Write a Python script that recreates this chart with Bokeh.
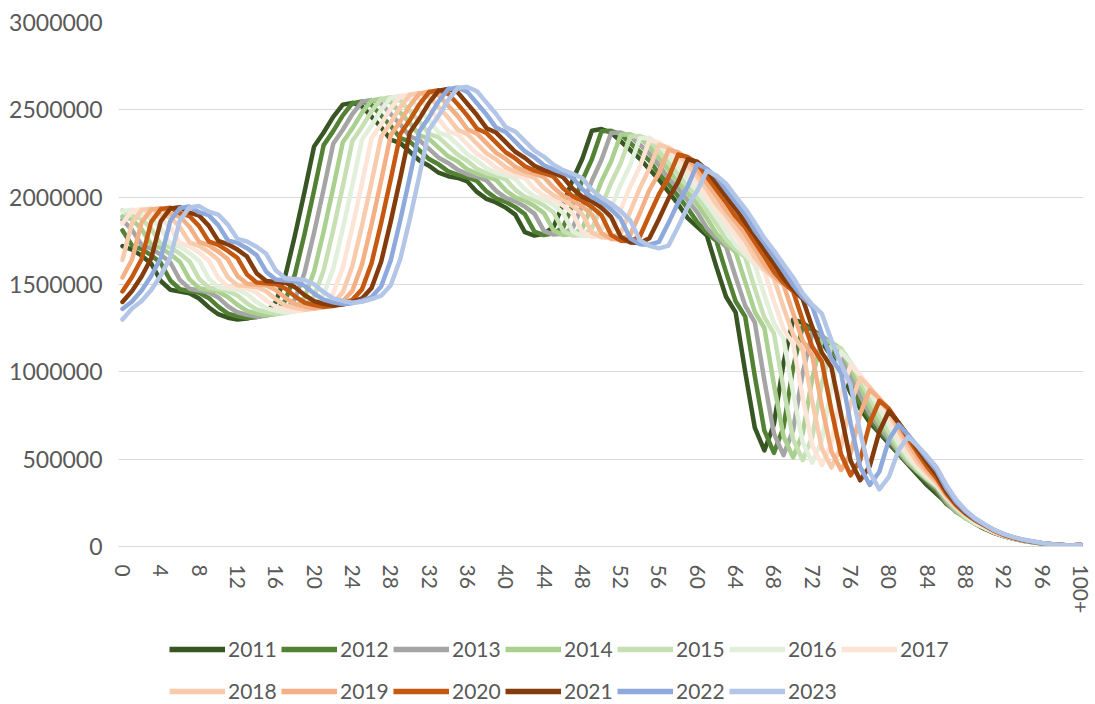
from bokeh.plotting import figure
from bokeh.layouts import column
from bokeh.models import ColumnDataSource, Legend, LegendItem, FixedTicker, NumeralTickFormatter, Range1d
from bokeh.embed import file_html
from bokeh.resources import INLINE

years = ["2011", "2012", "2013", "2014", "2015", "2016", "2017",
         "2018", "2019", "2020", "2021", "2022", "2023"]
colors = ["#375623", "#548235", "#a5a5a5", "#a9d08e", "#c6e0b4", "#e2efda", "#fce4d6",
          "#f8cbad", "#f4b084", "#c65911", "#843c0c", "#8ea9db", "#b4c6e7"]

ages = list(range(101))
tick_ages = [0, 4, 8, 12, 16, 20, 24, 28, 32, 36, 40, 44, 48, 52, 56, 60, 64, 68, 72, 76, 80, 84, 88, 92, 96, 100]
tick_labels = ["0", "4", "8", "12", "16", "20", "24", "28", "32", "36", "40", "44", "48", "52", "56", "60",
               "64", "68", "72", "76", "80", "84", "88", "92", "96", "100+"]
y_ticks = [0, 500000, 1000000, 1500000, 2000000, 2500000, 3000000]

# population by single year of age (thousands), ages 0..99 and 100+
pop_2011 = [1720,1700,1665,1620,1520,1470,1460,1450,1420,1370,
            1330,1310,1300,1305,1320,1340,1400,1550,1780,2030,
            2290,2370,2460,2530,2540,2520,2460,2400,2330,2310,
            2260,2210,2180,2140,2120,2110,2090,2030,1990,1970,
            1940,1900,1800,1780,1790,1830,1960,2100,2220,2380,
            2390,2370,2320,2270,2220,2160,2100,2030,1960,1880,
            1830,1780,1600,1430,1340,1000,680,550,700,1050,
            1300,1280,1240,1170,1090,1000,880,790,710,650,
            590,530,470,410,350,300,250,205,165,130,
            100,78,60,45,33,24,17,11,7,5,7]
pop_2012 = [1810,1723,1703,1668,1623,1523,1473,1463,1453,1423,
            1373,1333,1318,1308,1313,1328,1348,1408,1558,1788,
            2038,2298,2378,2468,2538,2548,2528,2468,2408,2338,
            2318,2268,2218,2188,2148,2128,2113,2093,2033,1993,
            1973,1943,1903,1803,1783,1793,1827,1957,2097,2217,
            2377,2380,2360,2310,2260,2210,2134,2075,2006,1936,
            1857,1797,1748,1571,1404,1316,975,663,536,683,
            1024,1261,1242,1203,1135,1057,930,818,735,660,
            605,531,477,423,369,315,243,203,166,134,
            105,76,59,46,34,25,17,12,8,5,8]
pop_2013 = [1870,1813,1726,1706,1671,1626,1526,1476,1466,1456,
            1426,1376,1341,1326,1316,1321,1336,1356,1416,1566,
            1796,2046,2306,2386,2476,2546,2556,2536,2476,2416,
            2346,2326,2276,2226,2196,2156,2131,2116,2096,2036,
            1996,1976,1946,1906,1806,1786,1790,1824,1954,2094,
            2214,2367,2370,2350,2300,2250,2183,2108,2050,1982,
            1913,1824,1765,1717,1543,1379,1283,951,646,523,
            666,993,1223,1205,1167,1101,983,865,761,684,
            614,545,478,429,381,332,255,197,164,134,
            109,80,58,45,35,26,18,12,8,6,8]
pop_2014 = [1890,1873,1816,1729,1709,1674,1629,1529,1479,1469,
            1459,1429,1384,1349,1334,1324,1329,1344,1364,1424,
            1574,1804,2054,2314,2394,2484,2554,2564,2544,2484,
            2424,2354,2334,2284,2234,2204,2159,2134,2119,2099,
            2039,1999,1979,1949,1909,1809,1783,1787,1821,1951,
            2091,2204,2357,2360,2340,2290,2223,2157,2083,2025,
            1958,1879,1791,1733,1686,1515,1345,1251,927,630,
            510,646,963,1186,1169,1132,1024,914,804,708,
            636,553,491,430,386,343,269,207,160,133,
            109,83,61,44,34,27,18,13,8,6,9]
pop_2015 = [1925,1893,1876,1819,1732,1712,1677,1632,1532,1482,
            1472,1462,1437,1392,1357,1342,1332,1337,1352,1372,
            1432,1582,1812,2062,2322,2402,2492,2562,2572,2552,
            2492,2432,2362,2342,2292,2242,2207,2162,2137,2122,
            2102,2042,2002,1982,1952,1912,1806,1780,1784,1818,
            1948,2081,2194,2347,2350,2330,2263,2196,2131,2058,
            2001,1923,1845,1759,1702,1656,1477,1311,1220,904,
            614,495,627,934,1150,1134,1053,952,850,748,
            658,572,498,442,387,347,278,218,168,130,
            108,83,63,46,33,26,19,13,9,6,10]
pop_2016 = [1920,1928,1896,1879,1822,1735,1715,1680,1635,1535,
            1485,1475,1470,1445,1400,1365,1350,1340,1345,1360,
            1380,1440,1590,1820,2070,2330,2410,2500,2570,2580,
            2560,2500,2440,2370,2350,2300,2245,2210,2165,2140,
            2125,2105,2045,2005,1985,1955,1909,1803,1777,1781,
            1815,1938,2071,2184,2337,2340,2302,2236,2170,2105,
            2033,1965,1888,1812,1727,1671,1615,1440,1278,1190,
            881,596,480,608,906,1116,1055,979,885,791,
            696,592,515,448,398,348,281,225,177,136,
            105,82,63,48,35,25,18,13,9,6,10]
pop_2017 = [1850,1923,1931,1899,1882,1825,1738,1718,1683,1638,
            1538,1488,1483,1478,1453,1408,1373,1358,1348,1353,
            1368,1388,1448,1598,1828,2078,2338,2418,2508,2578,
            2588,2568,2508,2448,2378,2358,2303,2248,2213,2168,
            2143,2128,2108,2048,2008,1988,1952,1906,1800,1774,
            1778,1805,1928,2061,2174,2327,2312,2274,2209,2144,
            2080,1996,1930,1854,1779,1696,1629,1575,1404,1246,
            1160,855,578,466,590,879,1038,981,910,823,
            736,626,533,464,403,358,282,228,182,143,
            110,80,62,48,36,27,18,13,9,6,10]
pop_2018 = [1640,1853,1926,1934,1902,1885,1828,1741,1721,1686,
            1641,1541,1496,1491,1486,1461,1416,1381,1366,1356,
            1361,1376,1396,1456,1606,1836,2086,2346,2426,2516,
            2586,2596,2576,2516,2456,2386,2361,2306,2251,2216,
            2171,2146,2131,2111,2051,2011,1985,1949,1903,1797,
            1771,1768,1795,1918,2051,2164,2299,2284,2247,2182,
            2118,2043,1960,1895,1821,1747,1654,1588,1536,1369,
            1215,1125,829,561,452,572,817,965,912,846,
            765,662,563,480,418,363,290,228,185,147,
            116,84,61,47,36,27,19,13,9,6,10]
pop_2019 = [1540,1643,1856,1929,1937,1905,1888,1831,1744,1724,
            1689,1644,1549,1504,1499,1494,1469,1424,1389,1374,
            1364,1369,1384,1404,1464,1614,1844,2094,2354,2434,
            2524,2594,2604,2584,2524,2464,2389,2364,2309,2254,
            2219,2174,2149,2134,2114,2054,2008,1982,1946,1900,
            1794,1761,1758,1785,1908,2041,2138,2271,2257,2220,
            2156,2080,2006,1925,1861,1788,1703,1613,1548,1498,
            1335,1179,1091,804,544,438,532,760,897,848,
            787,689,596,507,432,376,294,235,185,150,
            119,88,64,46,36,27,19,13,9,6,10]
pop_2020 = [1460,1543,1646,1859,1932,1940,1908,1891,1834,1747,
            1727,1692,1652,1557,1512,1507,1502,1477,1432,1397,
            1382,1372,1377,1392,1412,1472,1622,1852,2102,2362,
            2442,2532,2602,2612,2592,2532,2467,2392,2367,2312,
            2257,2222,2177,2152,2137,2117,2051,2005,1979,1943,
            1897,1784,1751,1748,1775,1898,2017,2112,2244,2230,
            2193,2117,2043,1970,1890,1828,1743,1660,1573,1509,
            1461,1295,1144,1058,780,528,407,495,707,834,
            789,708,620,536,456,389,305,238,190,150,
            122,90,67,49,35,27,19,13,9,6,10]
pop_2021 = [1400,1463,1546,1649,1862,1935,1943,1911,1894,1837,
            1750,1730,1700,1660,1565,1520,1515,1510,1485,1440,
            1405,1390,1380,1385,1400,1420,1480,1630,1860,2110,
            2370,2450,2540,2610,2620,2600,2535,2470,2395,2370,
            2315,2260,2225,2180,2155,2140,2114,2048,2002,1976,
            1940,1887,1774,1741,1738,1765,1875,1993,2087,2217,
            2203,2154,2079,2006,1935,1856,1782,1699,1619,1534,
            1471,1417,1256,1110,1026,757,491,379,460,658,
            776,710,637,558,482,410,315,247,193,154,
            122,93,68,51,37,27,19,13,9,6,10]
pop_2022 = [1360,1403,1466,1549,1652,1865,1938,1946,1914,1897,
            1840,1753,1738,1708,1668,1573,1528,1523,1518,1493,
            1448,1413,1398,1388,1393,1408,1428,1488,1638,1868,
            2118,2378,2458,2548,2618,2628,2603,2538,2473,2398,
            2373,2318,2263,2228,2183,2158,2137,2111,2045,1999,
            1973,1930,1877,1764,1731,1728,1744,1853,1969,2062,
            2190,2163,2115,2042,1970,1900,1810,1737,1657,1579,
            1496,1427,1374,1218,1077,995,704,457,352,428,
            612,698,639,573,502,434,332,255,200,156,
            125,93,71,52,39,28,19,13,9,6,10]
pop_2023 = [1300,1363,1406,1469,1552,1655,1868,1941,1949,1917,
            1900,1843,1761,1746,1716,1676,1581,1536,1531,1526,
            1501,1456,1421,1406,1396,1401,1416,1436,1496,1646,
            1876,2126,2386,2466,2556,2626,2631,2606,2541,2476,
            2401,2376,2321,2266,2231,2186,2155,2134,2108,2042,
            1996,1963,1920,1867,1754,1721,1707,1723,1831,1945,
            2037,2151,2124,2077,2005,1935,1853,1765,1694,1616,
            1540,1451,1384,1333,1181,1045,925,655,425,327,
            398,551,628,575,516,452,352,269,207,162,
            126,95,71,54,40,30,20,13,9,6,10]

series = [pop_2011, pop_2012, pop_2013, pop_2014, pop_2015, pop_2016, pop_2017,
          pop_2018, pop_2019, pop_2020, pop_2021, pop_2022, pop_2023]

FONT = "Lato"
TXT = "#595959"

# ---- main chart ----
p = figure(width=1095, height=620, x_range=Range1d(-0.413, 100.31), y_range=Range1d(0, 3000000),
           output_backend="svg", toolbar_location=None,
           min_border_left=118, min_border_right=12, min_border_top=22, min_border_bottom=74)
p.outline_line_color = None
p.background_fill_color = "white"

sources = []
for yr, col, vals in zip(years, colors, series):
    src = ColumnDataSource(data=dict(age=ages, pop=[v * 1000 for v in vals]))
    sources.append(src)
    p.line("age", "pop", source=src, line_color=col, line_width=4.5,
           line_join="round", line_cap="round")

p.xgrid.visible = False
p.ygrid.grid_line_color = "#d9d9d9"
p.ygrid.grid_line_width = 1

p.yaxis.ticker = FixedTicker(ticks=y_ticks)
p.yaxis.formatter = NumeralTickFormatter(format="0")
p.yaxis.axis_line_color = None
p.yaxis.major_tick_line_color = None
p.yaxis.minor_tick_line_color = None
p.yaxis.major_label_standoff = 10
p.yaxis.major_label_text_font = FONT
p.yaxis.major_label_text_font_size = "23px"
p.yaxis.major_label_text_color = TXT

p.xaxis.ticker = FixedTicker(ticks=tick_ages)
p.xaxis.major_label_overrides = {t: l for t, l in zip(tick_ages, tick_labels)}
p.xaxis.major_label_orientation = "vertical"
p.xaxis.axis_line_color = "#d9d9d9"
p.xaxis.axis_line_width = 1
p.xaxis.major_tick_line_color = None
p.xaxis.minor_tick_line_color = None
p.xaxis.major_label_standoff = 12
p.xaxis.major_label_text_font = FONT
p.xaxis.major_label_text_font_size = "21px"
p.xaxis.major_label_text_color = TXT

# ---- legend strip (two rows, as in the reference) ----
# the key lines share the chart's sources; they fall outside this strip's ranges,
# so only their legend samples are seen
lf = figure(width=1095, height=84, x_range=Range1d(200, 201), y_range=Range1d(-2, -1),
            output_backend="svg", toolbar_location=None,
            min_border_left=0, min_border_right=0, min_border_top=0, min_border_bottom=0)
lf.axis.visible = False
lf.grid.visible = False
lf.outline_line_color = None

keys = []
for src, col in zip(sources, colors):
    keys.append(lf.line("age", "pop", source=src, line_color=col, line_width=5.5, line_cap="butt"))


def make_legend(idx, loc):
    items = [LegendItem(label=years[i], renderers=[keys[i]]) for i in idx]
    return Legend(items=items, orientation="horizontal", location=loc,
                  glyph_width=56, glyph_height=20, label_height=20, label_width=50,
                  label_standoff=3, spacing=3, padding=0, margin=0,
                  label_text_font=FONT, label_text_font_size="21px", label_text_color=TXT,
                  background_fill_alpha=0, border_line_color=None)


lf.add_layout(make_legend(range(0, 7), (51, 43)))
lf.add_layout(make_legend(range(7, 13), (51, 1)))

layout = column(p, lf, spacing=0)
open("out.html", "w").write(file_html(layout, INLINE))
